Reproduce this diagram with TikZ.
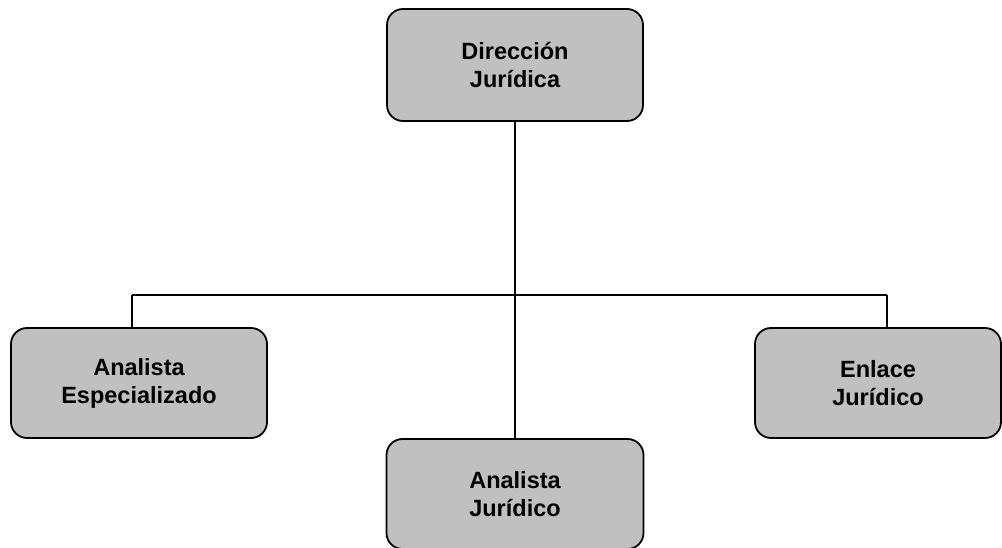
\documentclass[tikz,border=0pt]{standalone}
\usepackage{fontspec}
\setmainfont{Liberation Sans}
\usepackage{tikz}
\usetikzlibrary{backgrounds}
\definecolor{boxgray}{RGB}{192,192,192}
\pgfdeclarelayer{edgelayer}
\pgfdeclarelayer{nodelayer}
\pgfsetlayers{edgelayer,nodelayer,main}
\tikzstyle{unit}=[rectangle, rounded corners=16pt, fill=boxgray, draw=black, line width=1.8pt, align=center, font=\fontsize{23.5}{28}\selectfont\bfseries, minimum height=110pt]
\tikzstyle{link}=[-, draw=black, line width=1.8pt]
\begin{document}
\begin{tikzpicture}[x=1pt,y=-1pt]
            \useasboundingbox (0,0) rectangle (1002,548);
            \clip (0,0) rectangle (1002,548);
            \begin{pgfonlayer}{nodelayer}
                \node [style=unit, minimum width=256pt, minimum height=112pt] (DJ) at (515, 65) {Dirección\\Jurídica};
                \node [style=unit, minimum width=256pt] (AE) at (139, 383) {Analista\\Especializado};
                \node [style=unit, minimum width=246pt] (EJ) at (878, 383) {Enlace\\Jurídico};
                \node [style=unit, minimum width=257pt] (AJ) at (515, 494) {Analista\\Jurídico};
                \coordinate (jM) at (515, 295);
                \coordinate (jL) at (132, 295);
                \coordinate (jR) at (887, 295);
            \end{pgfonlayer}
            \begin{pgfonlayer}{edgelayer}
                \draw [style=link] (DJ) to (jM);
                \draw [style=link] (jM) to (AJ);
                \draw [style=link] (jL) to (jR);
                \draw [style=link] (jL) to (jL |- AE.north);
                \draw [style=link] (jR) to (jR |- EJ.north);
            \end{pgfonlayer}
        \end{tikzpicture}
\end{document}
